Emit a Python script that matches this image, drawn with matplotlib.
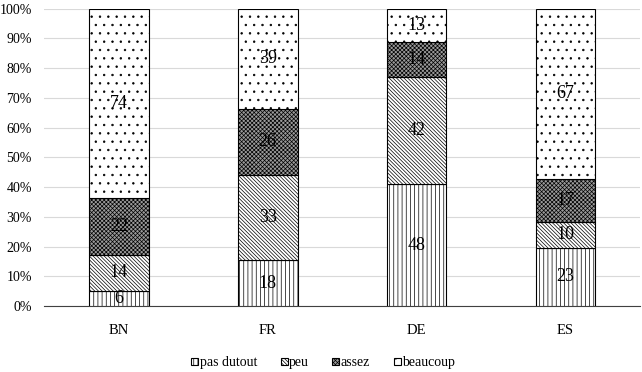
import matplotlib.pyplot as plt
import numpy as np

plt.rcParams['font.family'] = ['Liberation Serif', 'DejaVu Serif']
plt.rcParams['hatch.linewidth'] = 0.5

# Données
pays = ["BN", "FR", "DE", "ES"]
series = ["pas dutout", "peu", "assez", "beaucoup"]
pas_du_tout = [6, 18, 48, 23]
peu = [14, 33, 42, 10]
assez = [22, 26, 14, 17]
beaucoup = [74, 39, 13, 67]

valeurs = np.array([pas_du_tout, peu, assez, beaucoup], dtype=float)
totaux = valeurs.sum(axis=0)
pourcent = valeurs / totaux * 100

styles = [
    dict(facecolor="white", hatch="||||"),
    dict(facecolor="white", hatch="\\" * 9),
    dict(facecolor="#9a9a9a", hatch="x" * 8),
    dict(facecolor="white", hatch=".."),
]

fig, ax = plt.subplots(figsize=(6.42, 3.72), dpi=100)
fig.subplots_adjust(left=0.069, right=0.997, top=0.977, bottom=0.177)

x = np.arange(len(pays))
bas = np.zeros(len(pays))
for i, nom in enumerate(series):
    ax.bar(x, pourcent[i], 0.4, bottom=bas, edgecolor="black",
           linewidth=0.8, label=nom, zorder=3, **styles[i])
    for j in range(len(pays)):
        ax.text(x[j], bas[j] + pourcent[i][j] / 2, str(int(valeurs[i][j])),
                ha="center", va="center", fontsize=13, zorder=4)
    bas += pourcent[i]

ax.set_xlim(-0.5, 3.5)
ax.set_ylim(0, 100)
ax.set_yticks(np.arange(0, 101, 10))
ax.set_yticklabels([f"{v}%" for v in range(0, 101, 10)], fontsize=10)
ax.set_xticks(x)
ax.set_xticklabels(pays, fontsize=10.5)
ax.tick_params(axis="y", length=0, pad=9)
ax.tick_params(axis="x", length=0, pad=13)
ax.yaxis.grid(True, color="#d9d9d9", linewidth=0.8, zorder=0)
for s in ["top", "right", "left"]:
    ax.spines[s].set_visible(False)
ax.spines["bottom"].set_color("#404040")

ax.legend(loc="upper center", bbox_to_anchor=(0.468, -0.127), ncol=4,
          frameon=False, fontsize=10, handlelength=0.5, handleheight=0.5,
          handletextpad=0.1, columnspacing=1.7)

plt.savefig("out.png")
